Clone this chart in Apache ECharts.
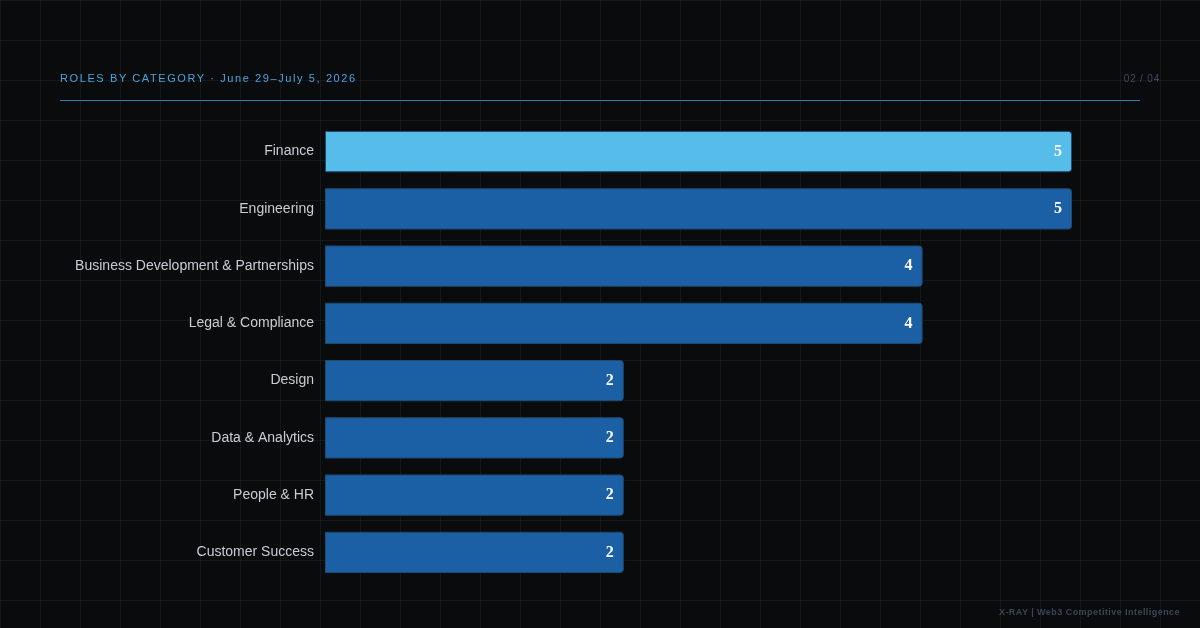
<!DOCTYPE html>
<html>
<head>
<meta charset="utf-8">
<script src="https://cdn.jsdelivr.net/npm/echarts@6/dist/echarts.min.js"></script>
<style>
  html, body { margin: 0; padding: 0; background: #0a0b0d; }
  #wrap {
    position: relative;
    width: 1200px;
    height: 628px;
    background-color: #0a0b0d;
    background-image:
      linear-gradient(to right, rgba(255,255,255,0.05) 1px, transparent 1px),
      linear-gradient(to bottom, rgba(255,255,255,0.05) 1px, transparent 1px);
    background-size: 40px 40px;
    background-position: 0 0;
    font-family: 'Liberation Sans', Arial, sans-serif;
  }
  #chart { position: absolute; left: 0; top: 0; width: 1200px; height: 628px; }
  .title {
    position: absolute; left: 60px; top: 72px;
    font-size: 11px; letter-spacing: 1.6px; color: #4aa3df;
  }
  .page {
    position: absolute; right: 40px; top: 73px;
    font-size: 10px; letter-spacing: 0.8px; color: #3d4a5e;
  }
  .rule {
    position: absolute; left: 60px; top: 100px; width: 1080px; height: 1px;
    background: #2d7fae;
  }
  .footer {
    position: absolute; right: 20px; top: 607px;
    font-size: 9px; font-weight: bold; letter-spacing: 0.45px; color: #3b4659;
  }
</style>
</head>
<body>
<div id="wrap">
  <div id="chart"></div>
  <div class="title">ROLES BY CATEGORY · June 29–July 5, 2026</div>
  <div class="page">02 / 04</div>
  <div class="rule"></div>
  <div class="footer">X-RAY | Web3 Competitive Intelligence</div>
</div>
<script>
const categories = [
  'Finance',
  'Engineering',
  'Business Development & Partnerships',
  'Legal & Compliance',
  'Design',
  'Data & Analytics',
  'People & HR',
  'Customer Success'
]
const roleCounts = [5, 5, 4, 4, 2, 2, 2, 2]
const highlighted = ['Finance']

const chart = echarts.init(document.getElementById('chart'), null, { renderer: 'canvas' })

chart.setOption({
  backgroundColor: 'transparent',
  animation: false,
  grid: { left: 325, right: 128, top: 123, bottom: 47, containLabel: false },
  xAxis: {
    type: 'value',
    min: 0,
    max: 5,
    show: false
  },
  yAxis: {
    type: 'category',
    data: categories,
    inverse: true,
    axisLine: { show: false },
    axisTick: { show: false },
    splitLine: { show: false },
    axisLabel: {
      color: '#c9cdd3',
      fontSize: 14,
      fontFamily: 'Liberation Sans, Arial, sans-serif',
      margin: 11
    }
  },
  series: [{
    type: 'bar',
    barCategoryGap: '28%',
    data: roleCounts.map((v, i) => ({
      value: v,
      itemStyle: {
        color: highlighted.includes(categories[i]) ? '#56bdea' : '#1b5fa5'
      }
    })),
    itemStyle: {
      borderColor: '#1d4b72',
      borderWidth: 1,
      borderRadius: [0, 3, 3, 0]
    },
    label: {
      show: true,
      position: 'insideRight',
      distance: 10,
      color: '#ffffff',
      fontSize: 16,
      fontWeight: 'bold',
      fontFamily: 'Liberation Serif, Times New Roman, serif'
    }
  }]
})
</script>
</body>
</html>
